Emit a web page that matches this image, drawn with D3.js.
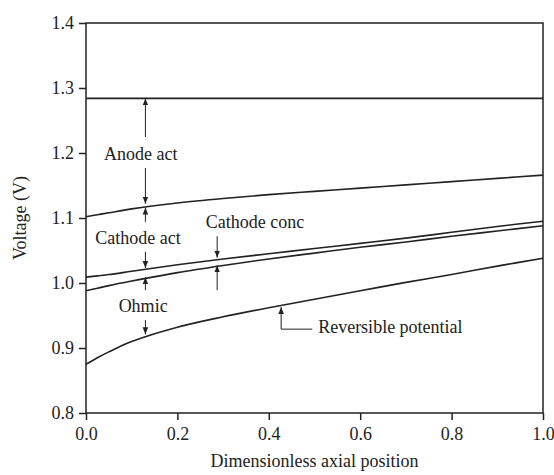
<!DOCTYPE html>
<html>
<head>
<meta charset="utf-8">
<script src="https://cdn.jsdelivr.net/npm/d3@7"></script>
<style>
  body { margin: 0; background: #fff; }
  text { font-family: "Liberation Serif", "Times New Roman", serif; fill: #222; }
</style>
</head>
<body>
<svg id="chart"></svg>
<script>
// values
const positions = [0, 0.025, 0.05, 0.1, 0.2, 0.3, 0.4, 0.5, 0.6, 0.7, 0.8, 0.9, 1.0];
const anodeLine = [1.284, 1.284, 1.284, 1.284, 1.284, 1.284, 1.284, 1.284, 1.284, 1.284, 1.284, 1.284, 1.284];
const anodeActCurve = [1.102, 1.105, 1.108, 1.114, 1.123, 1.130, 1.136, 1.141, 1.146, 1.151, 1.156, 1.161, 1.166];
const cathodeActCurve = [1.009, 1.011, 1.013, 1.018, 1.028, 1.037, 1.045, 1.053, 1.061, 1.069, 1.078, 1.087, 1.095];
const cathodeConcCurve = [0.988, 0.992, 0.996, 1.003, 1.016, 1.027, 1.037, 1.046, 1.055, 1.063, 1.072, 1.080, 1.088];
const reversibleCurve = [0.875, 0.885, 0.894, 0.910, 0.932, 0.948, 0.962, 0.975, 0.988, 1.001, 1.013, 1.026, 1.038];
const yTicks = [0.8, 0.9, 1.0, 1.1, 1.2, 1.3, 1.4];
const xTicks = [0.0, 0.2, 0.4, 0.6, 0.8, 1.0];

const margin = {top: 23, right: 11, bottom: 62, left: 86};
const width = 554 - margin.left - margin.right;
const height = 475 - margin.top - margin.bottom;

const svg = d3.select('#chart')
    .attr('width', 554)
    .attr('height', 475)
    .append('g')
    .attr('transform', 'translate(' + margin.left + ',' + margin.top + ')');

const x = d3.scaleLinear().domain([0, 1]).range([0, width]);
const y = d3.scaleLinear().domain([0.8, 1.4]).range([height, 0]);

svg.append('defs').append('marker')
    .attr('id', 'head')
    .attr('viewBox', '0 0 10 10')
    .attr('refX', 10).attr('refY', 5)
    .attr('markerWidth', 7).attr('markerHeight', 7)
    .attr('markerUnits', 'userSpaceOnUse')
    .attr('orient', 'auto')
    .append('path')
    .attr('d', 'M0,1 L10,5 L0,9 Z')
    .attr('fill', '#222');

// frame
svg.append('rect')
    .attr('width', width).attr('height', height)
    .attr('fill', 'none').attr('stroke', '#222').attr('stroke-width', 1.5);

const yAxis = svg.append('g')
    .call(d3.axisLeft(y).tickValues(yTicks).tickFormat(d3.format('.1f')).tickSize(7).tickPadding(5));
const xAxis = svg.append('g')
    .attr('transform', 'translate(0,' + height + ')')
    .call(d3.axisBottom(x).tickValues(xTicks).tickFormat(d3.format('.1f')).tickSize(7).tickPadding(7));
[xAxis, yAxis].forEach(function(g) {
  g.select('.domain').remove();
  g.selectAll('line').attr('stroke', '#222').attr('stroke-width', 1.5);
  g.selectAll('text').style('font-size', '18px').style('font-family', '"Liberation Serif", serif').attr('fill', '#222');
});

svg.append('text')
    .attr('x', width / 2).attr('y', height + 54)
    .attr('text-anchor', 'middle').style('font-size', '18px')
    .text('Dimensionless axial position');
svg.append('text')
    .attr('transform', 'translate(-60,' + (height / 2) + ') rotate(-90)')
    .attr('text-anchor', 'middle').style('font-size', '18px')
    .text('Voltage (V)');

const line = d3.line()
    .x(function(d) { return x(d[0]); })
    .y(function(d) { return y(d[1]); })
    .curve(d3.curveCatmullRom.alpha(0.5));

[anodeLine, anodeActCurve, cathodeActCurve, cathodeConcCurve, reversibleCurve].forEach(function(series) {
  svg.append('path')
      .datum(positions.map(function(p, i) { return [p, series[i]]; }))
      .attr('d', line)
      .attr('fill', 'none')
      .attr('stroke', '#222')
      .attr('stroke-width', 1.6);
});

// annotation arrows: [x, fromV, toV]
const arrows = [
  [0.13, 1.2246, 1.284], [0.13, 1.177, 1.122],
  [0.13, 1.094, 1.116], [0.13, 1.048, 1.023],
  [0.13, 0.989, 1.009], [0.13, 0.943, 0.921],
  [0.287, 1.072, 1.039], [0.287, 0.989, 1.027]
];
svg.selectAll('.arrow')
    .data(arrows)
    .enter()
    .append('line')
    .attr('x1', function(d) { return x(d[0]); })
    .attr('x2', function(d) { return x(d[0]); })
    .attr('y1', function(d) { return y(d[1]); })
    .attr('y2', function(d) { return y(d[2]); })
    .attr('stroke', '#222')
    .attr('stroke-width', 1)
    .attr('marker-end', 'url(#head)');

// callout for reversible potential
svg.append('path')
    .attr('d', 'M' + x(0.495) + ',' + y(0.929) + 'H' + x(0.427) + 'V' + y(0.963))
    .attr('fill', 'none')
    .attr('stroke', '#222')
    .attr('stroke-width', 1)
    .attr('marker-end', 'url(#head)');

const labels = [
  {t: 'Anode act', v: 0.12, V: 1.189, anchor: 'middle'},
  {t: 'Cathode act', v: 0.114, V: 1.060, anchor: 'middle'},
  {t: 'Ohmic', v: 0.125, V: 0.956, anchor: 'middle'},
  {t: 'Cathode conc', v: 0.37, V: 1.085, anchor: 'middle'},
  {t: 'Reversible potential', v: 0.508, V: 0.923, anchor: 'start'}
];
svg.selectAll('.lbl')
    .data(labels)
    .enter()
    .append('text')
    .attr('x', function(d) { return x(d.v); })
    .attr('y', function(d) { return y(d.V); })
    .attr('text-anchor', function(d) { return d.anchor; })
    .style('font-size', '18px')
    .text(function(d) { return d.t; });
</script>
</body>
</html>
